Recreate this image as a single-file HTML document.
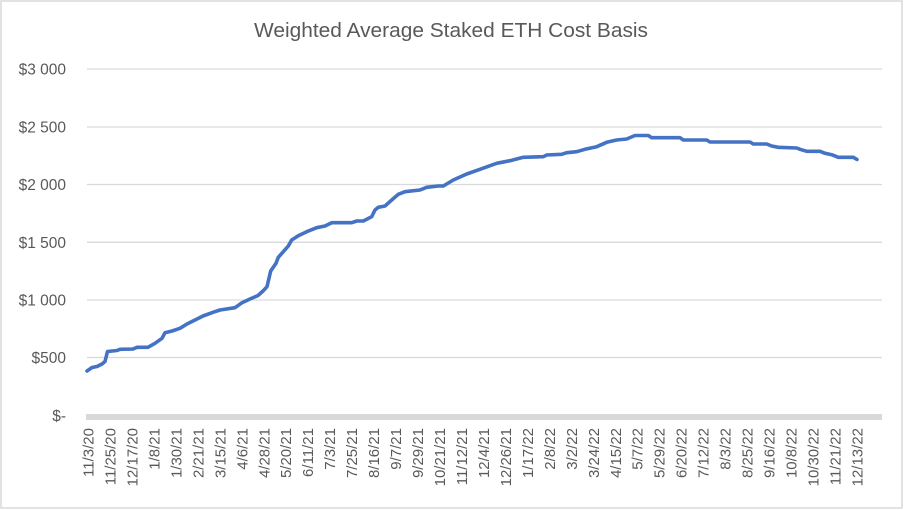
<!DOCTYPE html>
<html><head><meta charset="utf-8">
<style>
html,body{margin:0;padding:0;background:#fff;}
svg{display:block;}
text{font-family:"Liberation Sans",sans-serif;fill:#595959;}
</style></head><body>
<svg width="904" height="510" viewBox="0 0 904 510" xmlns="http://www.w3.org/2000/svg">
<rect x="1" y="1" width="901" height="507" fill="#fff" stroke="#d9d9d9" stroke-width="1.5"/>
<text x="451" y="37" font-size="20" text-anchor="middle" textLength="394" lengthAdjust="spacingAndGlyphs">Weighted Average Staked ETH Cost Basis</text>
<g stroke="#d9d9d9" stroke-width="1.3">
<line x1="87" x2="882" y1="69" y2="69"/>
<line x1="87" x2="882" y1="127" y2="127"/>
<line x1="87" x2="882" y1="184.5" y2="184.5"/>
<line x1="87" x2="882" y1="242.3" y2="242.3"/>
<line x1="87" x2="882" y1="300" y2="300"/>
<line x1="87" x2="882" y1="357.5" y2="357.5"/>
</g>
<rect x="86" y="414" width="796" height="6" fill="#d9d9d9"/>
<g font-size="15.5" text-anchor="end">
<text x="66" y="74.5">$3 000</text>
<text x="66" y="132.5">$2 500</text>
<text x="66" y="190">$2 000</text>
<text x="66" y="247.8">$1 500</text>
<text x="66" y="305.5">$1 000</text>
<text x="66" y="363">$500</text>
<text x="66" y="421">$-</text>
</g>
<g font-size="15" text-anchor="end">
<text transform="translate(93.5,428) rotate(-90)">11/3/20</text>
<text transform="translate(115.5,428) rotate(-90)">11/25/20</text>
<text transform="translate(137.4,428) rotate(-90)">12/17/20</text>
<text transform="translate(159.4,428) rotate(-90)">1/8/21</text>
<text transform="translate(181.4,428) rotate(-90)">1/30/21</text>
<text transform="translate(203.3,428) rotate(-90)">2/21/21</text>
<text transform="translate(225.3,428) rotate(-90)">3/15/21</text>
<text transform="translate(247.3,428) rotate(-90)">4/6/21</text>
<text transform="translate(269.3,428) rotate(-90)">4/28/21</text>
<text transform="translate(291.2,428) rotate(-90)">5/20/21</text>
<text transform="translate(313.2,428) rotate(-90)">6/11/21</text>
<text transform="translate(335.2,428) rotate(-90)">7/3/21</text>
<text transform="translate(357.1,428) rotate(-90)">7/25/21</text>
<text transform="translate(379.1,428) rotate(-90)">8/16/21</text>
<text transform="translate(401.1,428) rotate(-90)">9/7/21</text>
<text transform="translate(423,428) rotate(-90)">9/29/21</text>
<text transform="translate(445,428) rotate(-90)">10/21/21</text>
<text transform="translate(467,428) rotate(-90)">11/12/21</text>
<text transform="translate(489,428) rotate(-90)">12/4/21</text>
<text transform="translate(510.9,428) rotate(-90)">12/26/21</text>
<text transform="translate(532.9,428) rotate(-90)">1/17/22</text>
<text transform="translate(554.9,428) rotate(-90)">2/8/22</text>
<text transform="translate(576.8,428) rotate(-90)">3/2/22</text>
<text transform="translate(598.8,428) rotate(-90)">3/24/22</text>
<text transform="translate(620.8,428) rotate(-90)">4/15/22</text>
<text transform="translate(642.7,428) rotate(-90)">5/7/22</text>
<text transform="translate(664.7,428) rotate(-90)">5/29/22</text>
<text transform="translate(686.7,428) rotate(-90)">6/20/22</text>
<text transform="translate(708.7,428) rotate(-90)">7/12/22</text>
<text transform="translate(730.6,428) rotate(-90)">8/3/22</text>
<text transform="translate(752.6,428) rotate(-90)">8/25/22</text>
<text transform="translate(774.6,428) rotate(-90)">9/16/22</text>
<text transform="translate(796.5,428) rotate(-90)">10/8/22</text>
<text transform="translate(818.5,428) rotate(-90)">10/30/22</text>
<text transform="translate(840.5,428) rotate(-90)">11/21/22</text>
<text transform="translate(862.4,428) rotate(-90)">12/13/22</text>
</g>
<polyline fill="none" stroke="#4472C4" stroke-width="3.6" stroke-linejoin="round" stroke-linecap="round" points="87,371 92,367.5 97,366.5 102,364 105,361.5 107.5,351.5 117,350.5 120,349.3 133,349 137,347.3 148,347.3 155,343.3 162,338.3 165,332.7 172,331 180,328.3 187,324 195,320 203,316 213,312.3 220,310 235,307.7 242,302.7 250,299 258,295.5 263,291 267,286.7 270.7,271 276,263.3 278.3,257.3 283.3,251.7 288.3,246 291.7,240 298.3,235.7 306.7,231.7 316.7,227.7 325,226 331.7,222.7 351.7,222.7 356.7,221 363.3,221 371.7,216.7 375,210 378.3,207.3 385,206 391.7,200 398.3,194.3 405,191.7 420,190 426.7,187.3 438.3,186 443.3,186 453.3,180 466.7,174 480,169.3 496.7,163.3 510,160.7 523.3,157.3 543.3,156.7 546.7,155 561.7,154.3 566.7,152.7 576.7,151.7 585,149.3 596.7,146.7 606.7,142.3 616.7,140 626.7,139 635,135.5 648.3,135.5 651.7,137.7 680,137.7 683.3,140 706.7,140 710,142 750,142 753.3,144 766.7,144 771.7,146 778.3,147.3 796.7,148 800,149.3 806.7,151.3 820,151.3 825,153.3 831.7,154.7 838.3,157.3 853.3,157.3 857,159.5"/>
</svg>
</body></html>
